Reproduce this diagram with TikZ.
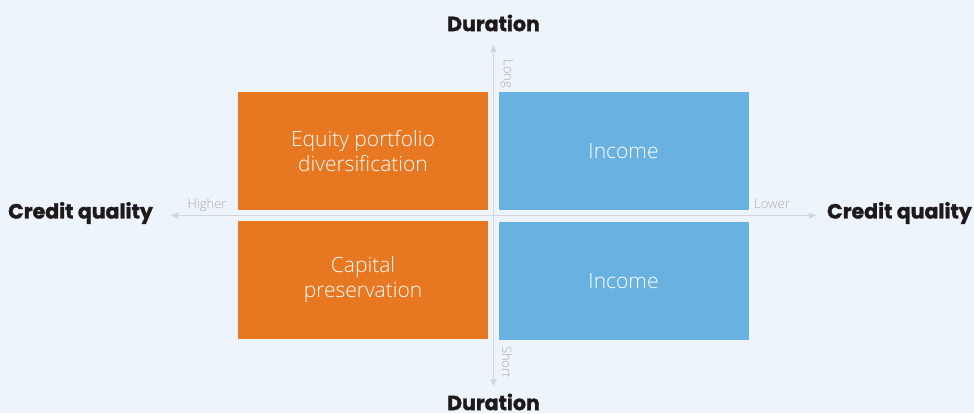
\documentclass[tikz,border=0pt]{standalone}
\usepackage{fontspec}
\setmainfont{Open Sans}
\newfontfamily\boxfont{Open Sans Light}
\newfontfamily\headfont[BoldFeatures={FakeBold=1.5}]{Poppins}
\usetikzlibrary{arrows.meta}
\definecolor{bg}{HTML}{EEF4FB}
\definecolor{orng}{HTML}{E87722}
\definecolor{blu}{HTML}{68B1E1}
\definecolor{axisgray}{HTML}{D3D6D9}
\definecolor{lblgray}{HTML}{A9ABAE}
\definecolor{headtext}{HTML}{1E1A1C}
\tikzset{
  quad/.style={minimum width=250pt, minimum height=118pt, inner sep=0pt, text=white, font=\boxfont\fontsize{21}{25}\selectfont, align=center},
  axisline/.style={draw=axisgray, line width=1.3pt, -{Triangle[length=7pt,width=6pt]}},
  small/.style={text=lblgray, font=\boxfont\fontsize{13}{15}\selectfont, inner sep=0pt},
  head/.style={text=headtext, font=\headfont\bfseries\fontsize{20.5}{23}\selectfont, inner sep=0pt}
}
\begin{document}
\begin{tikzpicture}[x=1pt,y=-1pt]
\fill[bg] (0,0) rectangle (974,413);
\useasboundingbox (0,0) rectangle (974,413);
\node[quad, fill=orng] (q1) at (363,151) {Equity portfolio\\diversification};
\node[quad, fill=blu] (q2) at (623.5,151) {Income};
\node[quad, fill=orng] (q3) at (363,280) {Capital\\preservation};
\node[quad, fill=blu] (q4) at (623.5,281) {Income};
\coordinate (c) at (493.5,215.5);
\coordinate (top) at (493.5,45);
\coordinate (bot) at (493.5,386);
\coordinate (lft) at (171,215.5);
\coordinate (rgt) at (816,215.5);
\draw[axisline] (c) -- (top);
\draw[axisline] (c) -- (bot);
\draw[axisline] (c) -- (lft);
\draw[axisline] (c) -- (rgt);
\node[head] (dt) at (493.5,23) {Duration};
\node[head] (db) at (493.5,402) {Duration};
\node[head, anchor=west] (cl) at (8,213) {Credit quality};
\node[head, anchor=east] (cr) at (972,213) {Credit quality};
\node[small] (hi) at (207,205) {Higher};
\node[small] (lo) at (772,204) {Lower};
\node[small, rotate=-90] (lg) at (507,74) {Long};
\node[small, rotate=-90] (sh) at (507,362) {Short};
\end{tikzpicture}
\end{document}
